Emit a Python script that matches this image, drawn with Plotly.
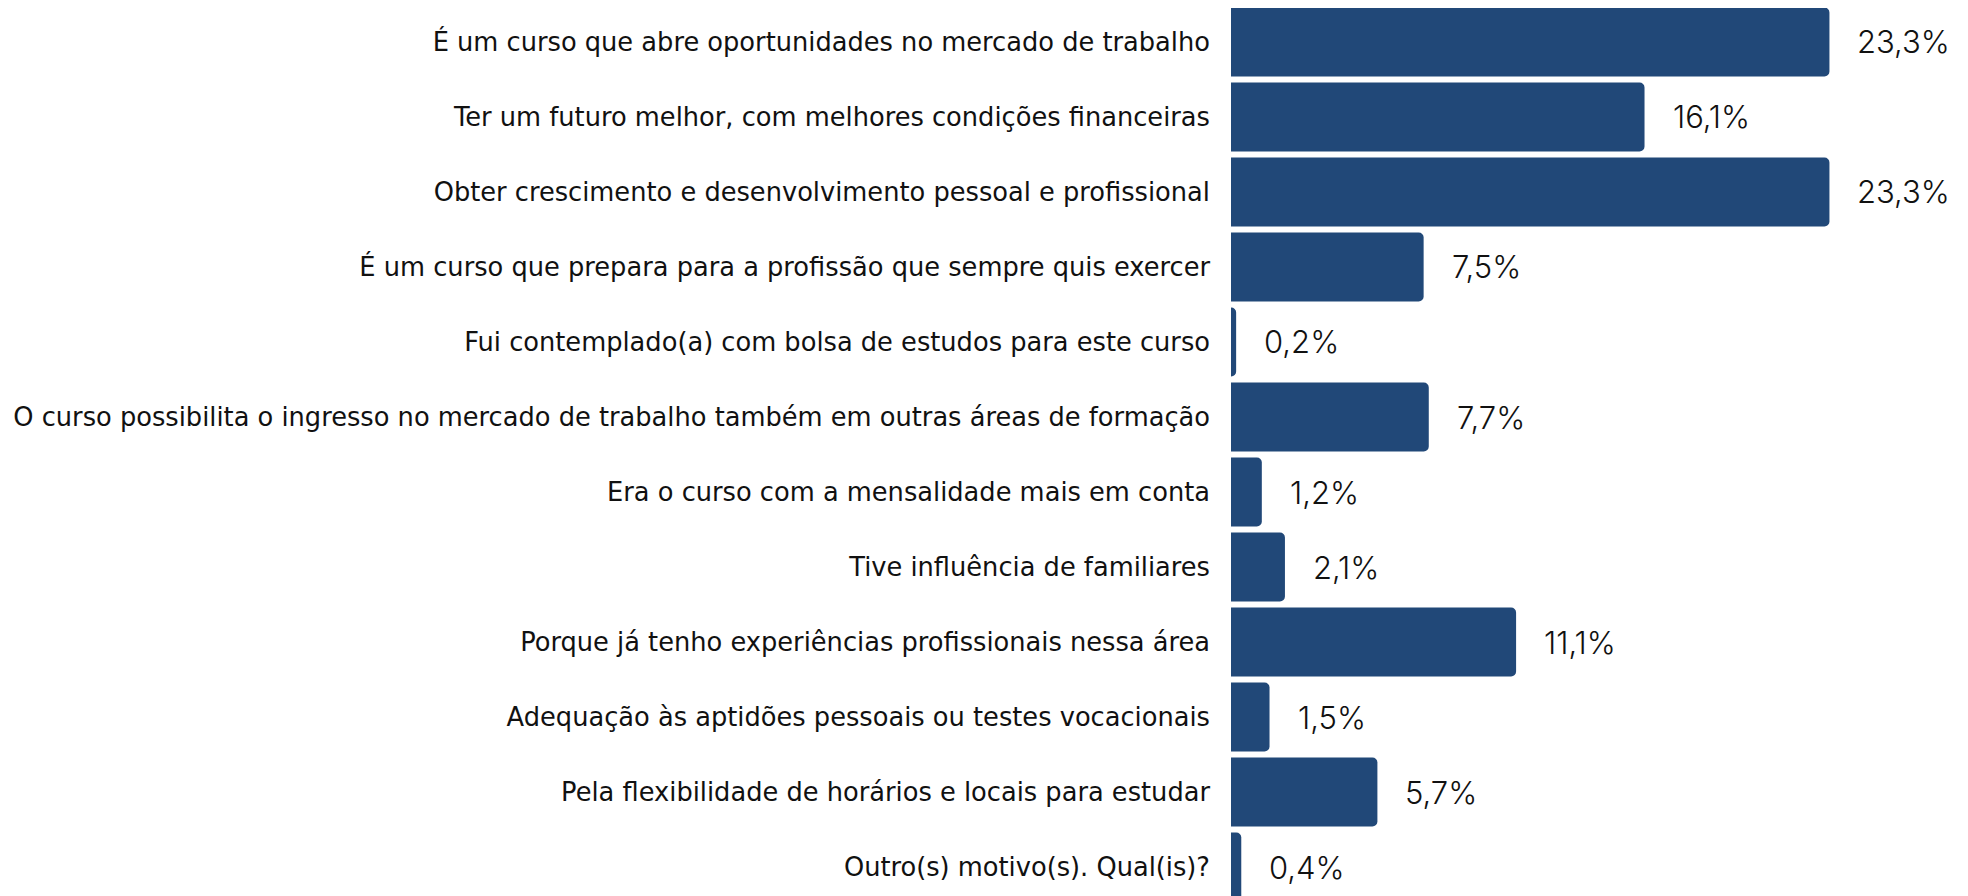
import plotly.graph_objects as go

categories = [
    "É um curso que abre oportunidades no mercado de trabalho",
    "Ter um futuro melhor, com melhores condições financeiras",
    "Obter crescimento e desenvolvimento pessoal e profissional",
    "É um curso que prepara para a profissão que sempre quis exercer",
    "Fui contemplado(a) com bolsa de estudos para este curso",
    "O curso possibilita o ingresso no mercado de trabalho também em outras áreas de formação",
    "Era o curso com a mensalidade mais em conta",
    "Tive influência de familiares",
    "Porque já tenho experiências profissionais nessa área",
    "Adequação às aptidões pessoais ou testes vocacionais",
    "Pela flexibilidade de horários e locais para estudar",
    "Outro(s) motivo(s). Qual(is)?",
]
values = [23.3, 16.1, 23.3, 7.5, 0.2, 7.7, 1.2, 2.1, 11.1, 1.5, 5.7, 0.4]
value_labels = [f"{v:.1f}".replace(".", ",") + "%" for v in values]

W, H = 1960, 896
fig = go.Figure()
fig.add_trace(go.Bar(
    x=values, y=categories, orientation="h",
    marker=dict(color="#214878", line=dict(width=0)),
    width=0.92, hoverinfo="skip",
))
fig.update_layout(barcornerradius=5)

for v, c, t in zip(values, categories, value_labels):
    fig.add_annotation(
        x=v, y=c, text=t, showarrow=False, xanchor="left", yanchor="middle",
        xshift=26, yshift=0,
        font=dict(family="Inter", size=31, color="#111111", weight=300),
    )

fig.update_layout(
    width=W, height=H,
    margin=dict(l=1223, r=5, t=0, b=0),
    plot_bgcolor="white", paper_bgcolor="white",
    showlegend=False,
    xaxis=dict(range=[0, 28.5], visible=False, fixedrange=True),
    yaxis=dict(
        type="category", categoryorder="array", categoryarray=categories,
        range=[11.493, -0.453], automargin=False, showgrid=False, zeroline=False,
        showline=False, ticks="", ticklabelstandoff=20,
        tickfont=dict(family="DejaVu Sans", size=25.7, color="#111111"),
    ),
)
fig.write_html("out.html")
